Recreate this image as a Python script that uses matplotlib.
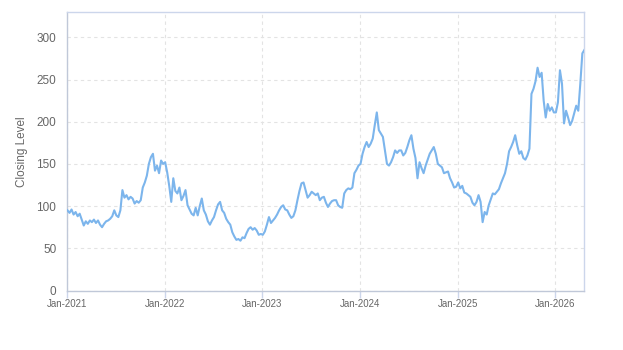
import matplotlib.pyplot as plt
import matplotlib.dates as mdates
import pandas as pd

plt.rcParams['font.family'] = ['Liberation Sans', 'DejaVu Sans']

# roughly weekly closing levels, four readings per month
v2021 = [95, 92, 96, 90, 93, 88, 91, 84, 77, 82, 79, 83, 81, 84, 80, 83,
         78, 75, 79, 82, 83, 85, 88, 95, 89, 87, 95, 119, 110, 113, 108, 111,
         109, 103, 106, 104, 107, 122, 128, 136, 150, 158, 162, 142, 148, 139, 154, 150]
v2022 = [152, 140, 124, 105, 133, 118, 115, 122, 107, 112, 119, 101, 96, 91, 89, 98,
         89, 100, 109, 95, 90, 82, 78, 83, 87, 95, 102, 105, 95, 92, 85, 81,
         78, 69, 64, 60, 61, 59, 63, 62, 68, 73, 75, 72, 74, 71, 66, 67]
v2023 = [66, 70, 78, 87, 80, 83, 86, 90, 95, 99, 101, 96, 95, 90, 86, 88,
         95, 107, 118, 127, 128, 119, 110, 113, 117, 115, 113, 115, 107, 110, 111, 104,
         99, 103, 106, 107, 107, 101, 99, 98, 115, 119, 121, 120, 122, 139, 143, 148]
v2024 = [150, 162, 170, 176, 170, 174, 180, 196, 211, 190, 186, 182, 166, 150, 148, 152,
         158, 166, 163, 166, 166, 160, 163, 170, 178, 184, 168, 157, 133, 152, 145, 139,
         148, 155, 162, 166, 170, 162, 150, 148, 146, 139, 140, 141, 133, 128, 122, 123]
v2025 = [128, 121, 124, 116, 115, 113, 111, 104, 101, 105, 113, 105, 81, 93, 90, 101,
         108, 115, 114, 117, 120, 127, 133, 139, 150, 165, 170, 176, 184, 172, 162, 165,
         157, 155, 160, 168, 233, 239, 248, 264, 253, 258, 225, 205, 221, 213, 217, 211]
v2026 = [211, 223, 261, 245, 198, 213, 205, 196, 201, 210, 219, 213, 245, 281, 285]

values = v2021 + v2022 + v2023 + v2024 + v2025 + v2026
start, end = '2021-01-01', '2026-04-20'
dates = pd.date_range(start, end, periods=len(values))
year_ticks = pd.to_datetime(['2021-01-01', '2022-01-01', '2023-01-01',
                             '2024-01-01', '2025-01-01', '2026-01-01'])

fig = plt.figure(figsize=(6.23, 3.5), dpi=100)
ax = fig.add_axes([0.1083, 0.17, 0.8297, 0.7957])

ax.plot(dates, values, color='#7cb5ec', linewidth=1.5, zorder=3)

ax.set_xlim(pd.Timestamp(start), pd.Timestamp(end))
ax.set_ylim(0, 330)
ax.set_yticks(range(0, 301, 50))
ax.set_xticks(year_ticks)
ax.xaxis.set_major_formatter(mdates.DateFormatter('%b-%Y'))

ax.grid(True, color='#e3e3e3', linestyle=(0, (3, 3)), linewidth=0.8)
for s in ax.spines.values():
    s.set_color('#ccd6eb')
    s.set_linewidth(1)
ax.spines['left'].set_color('#c0c8d8')
ax.spines['bottom'].set_color('#c0c8d8')

ax.tick_params(axis='y', length=0, pad=8, labelsize=8.5, labelcolor='#666666')
ax.tick_params(axis='x', length=5, width=1, color='#ccd6eb', pad=1,
               labelsize=7, labelcolor='#666666')
ax.set_ylabel('Closing Level', color='#666666', fontsize=8.5, labelpad=6)

fig.savefig('out.png', dpi=100)
